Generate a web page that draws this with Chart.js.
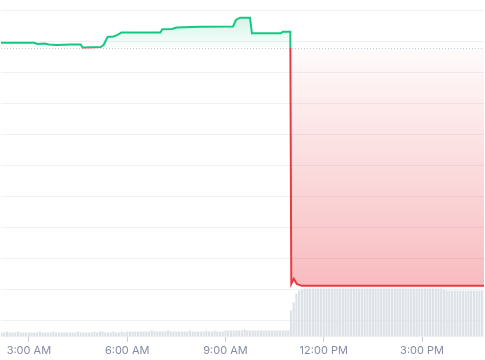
<!DOCTYPE html>
<html><head><meta charset="utf-8">
<script src="https://cdn.jsdelivr.net/npm/chart.js@4.4.1/dist/chart.umd.min.js"></script>
<style>html,body{margin:0;padding:0;background:#fff}#wrap{width:485px;height:360px;position:relative}</style>
</head><body><div id="wrap"><canvas id="c"></canvas></div>
<script>
// Previous-close reference level (dotted line)
const BASELINE = 8.788;
// Price series: time of day in hours, price
const PRICE_TIMES = [2.149, 3.152, 3.274, 3.486, 3.608, 3.851, 4.277, 4.581, 4.641, 5.188, 5.280, 5.401, 5.584, 5.705, 5.827, 7.012, 7.073, 7.377, 7.498, 8.228, 9.231, 9.322, 9.444, 9.748, 9.809, 10.690, 10.751, 10.979, 11.009, 11.085, 11.176, 11.328, 11.875, 14.307, 16.891];
const PRICE_VALUES = [8.976, 8.973, 8.934, 8.950, 8.918, 8.901, 8.918, 8.918, 8.821, 8.837, 8.901, 9.160, 9.176, 9.225, 9.305, 9.305, 9.409, 9.418, 9.467, 9.490, 9.499, 9.709, 9.784, 9.784, 9.279, 9.279, 9.331, 9.331, 1.179, 1.341, 1.179, 1.115, 1.115, 1.115, 1.115];
// Volume: 5-minute bars starting 2:10 AM
const VOLUME_START = 2 + 10/60;
const VOLUME_STEP = 5/60;
const VOLUMES = [
  4,4,5,4,4,4,5,4,4,4,4,
  4,4,4,5,4,4,4,4,5,4,4,4,
  4,4,4,4,4,5,4,4,4,4,4,5,
  4,5,5,4,4,4,5,4,4,5,4,5,
  5,5,5,5,5,5,5,5,6,5,5,5,
  5,5,6,5,5,5,5,5,5,5,6,5,
  5,5,5,5,6,5,5,6,5,5,5,6,
  6,6,6,6,6,6,7,6,6,6,6,6,
  6,6,6,6,6,6,6,6,6,6,6,
  26,34,43,46,47,48,48,48,48,48,48,48,
  48,48,48,48,48,48,48,48,48,48,48,48,
  48,48,48,48,48,48,48,48,48,48,48,48,
  48,48,48,48,48,48,48,48,48,48,48,48,
  48,48,48,48,48,48,48,48,47,46,46,46,
  46,46,46,46,46,46,46,46,46,46,46
];
const TICK_HOURS = [3, 6, 9, 12, 15];
const GRID_VALUES = [0, 1, 2, 3, 4, 5, 6, 7, 8, 9, 10];
const X_MIN = 2.149, X_MAX = 16.891;

const priceData = PRICE_TIMES.map((t, i) => ({x: t, y: PRICE_VALUES[i]}));
const volData = VOLUMES.map((v, i) => ({x: VOLUME_START + i * VOLUME_STEP, y: v}));
const baseData = [{x: X_MIN, y: BASELINE}, {x: X_MAX, y: BASELINE}];

function fmtHour(h) {
  const ampm = h >= 12 ? 'PM' : 'AM';
  let hh = h % 12; if (hh === 0) hh = 12;
  return hh + ':00 ' + ampm;
}

const chart = new Chart(document.getElementById('c'), {
  type: 'line',
  data: {
    datasets: [
      {
        type: 'line', label: 'Price', data: priceData, order: 1,
        borderColor: '#16c784', borderWidth: 2, pointRadius: 0, tension: 0,
        fill: {target: {value: BASELINE}, above: 'rgba(22,199,132,0.12)', below: 'rgba(234,57,67,0.15)'},
        yAxisID: 'y'
      },
      {
        type: 'line', label: 'Base', data: baseData, order: 2,
        borderColor: '#c3cad6', borderWidth: 1, borderDash: [1, 2], pointRadius: 0, fill: false,
        yAxisID: 'y'
      },
      {
        type: 'bar', label: 'Volume', data: volData, order: 3,
        backgroundColor: '#dde1e8', barThickness: 1.5, yAxisID: 'y2'
      }
    ]
  },
  options: {
    responsive: true, maintainAspectRatio: false, animation: false,
    layout: {padding: {top: 0, bottom: 1, left: 0, right: 0}},
    plugins: {legend: {display: false}, tooltip: {enabled: false}},
    scales: {
      x: {
        type: 'linear', min: X_MIN, max: X_MAX, offset: false,
        grid: {drawOnChartArea: false, drawTicks: true, tickLength: 5, color: '#c9ced8', offset: false},
        border: {display: false},
        afterBuildTicks: a => { a.ticks = TICK_HOURS.map(v => ({value: v})); },
        ticks: {color: '#858ca2', font: {family: 'Inter', size: 11}, padding: 2, maxRotation: 0, autoSkip: false, includeBounds: false,
          callback: v => fmtHour(v)}
      },
      y: {
        type: 'linear', position: 'left', min: -0.533, max: 10.323,
        grid: {color: '#eff1f4', drawTicks: false},
        border: {display: false},
        afterBuildTicks: a => { a.ticks = GRID_VALUES.map(v => ({value: v})); },
        ticks: {display: false}
      },
      y2: {type: 'linear', display: false, min: 0, max: 336}
    }
  }
});

function applyGradients(ch) {
  const c = ch.ctx, a = ch.chartArea, ys = ch.scales.y;
  const yb = ys.getPixelForValue(BASELINE);
  const yTop = ys.getPixelForValue(Math.max(...PRICE_VALUES));
  const yLow = ys.getPixelForValue(Math.min(...PRICE_VALUES));
  const frac = Math.min(1, Math.max(0, (yb - a.top) / (a.bottom - a.top)));
  const border = c.createLinearGradient(0, a.top, 0, a.bottom);
  border.addColorStop(0, '#16c784'); border.addColorStop(frac, '#16c784');
  border.addColorStop(frac, '#ea3943'); border.addColorStop(1, '#ea3943');
  const green = c.createLinearGradient(0, yTop, 0, yb);
  green.addColorStop(0, 'rgba(22,199,132,0.2)'); green.addColorStop(1, 'rgba(22,199,132,0.02)');
  const red = c.createLinearGradient(0, yb, 0, yLow);
  red.addColorStop(0, 'rgba(234,57,67,0.02)'); red.addColorStop(1, 'rgba(234,57,67,0.34)');
  const ds = ch.data.datasets[0];
  ds.borderColor = border;
  ds.fill = {target: {value: BASELINE}, above: green, below: red};
  ch.update('none');
}
applyGradients(chart);
</script>
</body></html>
